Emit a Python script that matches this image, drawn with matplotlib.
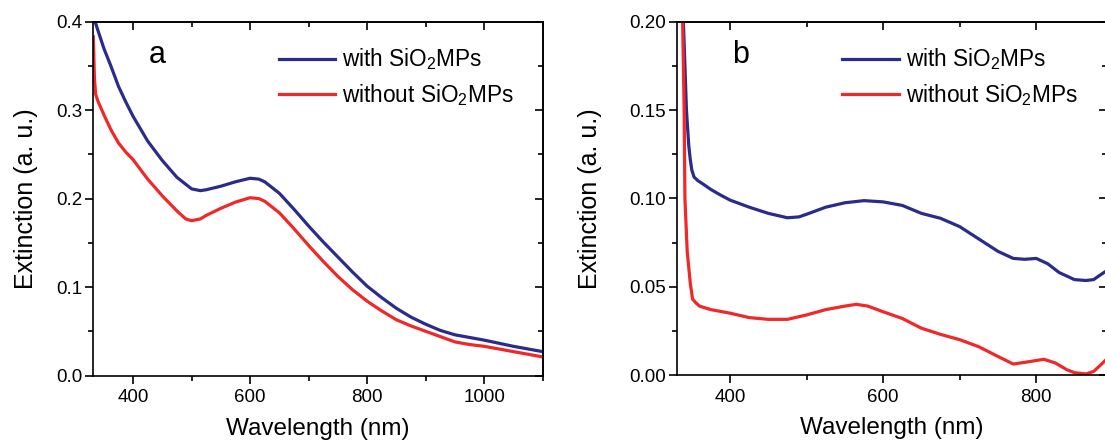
import matplotlib
matplotlib.use('Agg')
import matplotlib.pyplot as plt
import matplotlib.ticker as mticker

plt.rcParams['font.family'] = ['Liberation Sans', 'DejaVu Sans']
plt.rcParams['mathtext.fontset'] = 'custom'
plt.rcParams['mathtext.rm'] = 'Liberation Sans'
plt.rcParams['mathtext.it'] = 'Liberation Sans:italic'

# panel a: wavelength (nm) / extinction (a. u.)
wl_a_with = [335, 340, 350, 362, 375, 387, 400, 425, 450, 475, 500, 515, 525, 550, 575,
             600, 615, 625, 650, 675, 700, 725, 750, 775, 800, 825, 850, 875, 900, 925,
             950, 975, 1000, 1050, 1100]
ext_a_with = [0.400, 0.390, 0.370, 0.350, 0.327, 0.310, 0.293, 0.265, 0.243, 0.224, 0.211,
              0.209, 0.210, 0.214, 0.219, 0.223, 0.222, 0.219, 0.206, 0.188, 0.169, 0.151,
              0.134, 0.117, 0.101, 0.088, 0.076, 0.066, 0.058, 0.051, 0.046, 0.043, 0.040,
              0.033, 0.027]
wl_a_without = [332, 333, 334, 336, 340, 350, 362, 375, 387, 400, 425, 450, 475, 490, 500,
                515, 525, 550, 575, 600, 615, 625, 650, 675, 700, 725, 750, 775, 800, 825,
                850, 875, 900, 925, 950, 975, 1000, 1050, 1100]
ext_a_without = [0.383, 0.360, 0.335, 0.318, 0.310, 0.295, 0.278, 0.263, 0.253, 0.244, 0.222,
                 0.203, 0.186, 0.177, 0.175, 0.177, 0.181, 0.189, 0.196, 0.201, 0.200, 0.197,
                 0.184, 0.166, 0.147, 0.129, 0.112, 0.097, 0.084, 0.073, 0.063, 0.056, 0.050,
                 0.044, 0.038, 0.035, 0.033, 0.027, 0.021]

# panel b
wl_b_with = [339, 341, 343, 346, 348, 350, 353, 358, 365, 375, 387, 400, 425, 450, 475, 490,
             500, 525, 550, 575, 600, 625, 650, 675, 700, 725, 750, 770, 785, 800, 815, 830,
             850, 865, 875, 885, 892]
ext_b_with = [0.200, 0.175, 0.150, 0.130, 0.122, 0.116, 0.112, 0.110, 0.108, 0.105, 0.102,
              0.099, 0.095, 0.0915, 0.089, 0.0895, 0.091, 0.095, 0.0975, 0.0987, 0.098, 0.096,
              0.0915, 0.0887, 0.084, 0.077, 0.070, 0.066, 0.0655, 0.066, 0.063, 0.058, 0.054,
              0.0535, 0.054, 0.057, 0.059]
wl_b_without = [338, 340, 341, 344, 348, 351, 355, 360, 375, 400, 425, 450, 475, 500, 525, 550,
                565, 580, 600, 625, 650, 675, 700, 725, 750, 770, 790, 810, 825, 840, 850, 865,
                875, 885, 892]
ext_b_without = [0.200, 0.150, 0.100, 0.070, 0.052, 0.043, 0.041, 0.039, 0.037, 0.035, 0.0325,
                 0.0315, 0.0315, 0.034, 0.037, 0.039, 0.040, 0.039, 0.0358, 0.032, 0.0265,
                 0.023, 0.020, 0.016, 0.0105, 0.0062, 0.0075, 0.0089, 0.0068, 0.003, 0.0013,
                 0.0006, 0.002, 0.006, 0.009]

labels = ['with SiO$_2$MPs', 'without SiO$_2$MPs']
colors = {'with': '#2B2B8C', 'without': '#F02828'}

W, H = 1105, 442
fig = plt.figure(figsize=(W / 100, H / 100), dpi=100)


def make_panel(rect, xlim, ylim, xmaj, xmin, ymaj, ymin, yfmt, letter, letter_x, ylab_x):
    ax = fig.add_axes(rect)
    ax.set_xlim(*xlim)
    ax.set_ylim(*ylim)
    ax.xaxis.set_major_locator(mticker.MultipleLocator(xmaj))
    ax.xaxis.set_minor_locator(mticker.MultipleLocator(xmin))
    ax.yaxis.set_major_locator(mticker.MultipleLocator(ymaj))
    ax.yaxis.set_minor_locator(mticker.MultipleLocator(ymin))
    ax.yaxis.set_major_formatter(mticker.FormatStrFormatter(yfmt))
    ax.tick_params(which='both', direction='out', width=1.2, labelsize=13.5, pad=2)
    ax.tick_params(axis='x', pad=4.5)
    ax.tick_params(which='major', length=5.5)
    ax.tick_params(which='minor', length=3.5)
    for s in ax.spines.values():
        s.set_linewidth(1.2)
    # mirrored ticks pointing inward on top/right
    top = ax.secondary_xaxis('top')
    right = ax.secondary_yaxis('right')
    for sec, axis in ((top, top.xaxis), (right, right.yaxis)):
        axis.set_major_locator(mticker.MultipleLocator(xmaj if sec is top else ymaj))
        axis.set_minor_locator(mticker.MultipleLocator(xmin if sec is top else ymin))
        sec.tick_params(which='both', direction='in', width=1.2, labelleft=False,
                        labelright=False, labeltop=False, labelbottom=False)
        sec.tick_params(which='major', length=5.5)
        sec.tick_params(which='minor', length=3.5)
        for s in sec.spines.values():
            s.set_linewidth(1.2)
    ax.set_xlabel('Wavelength (nm)', fontsize=17.5)
    ax.set_ylabel('Extinction (a. u.)', fontsize=18)
    ax.xaxis.set_label_coords(0.5, -0.12)
    ax.yaxis.set_label_coords(ylab_x, 0.5)
    ax.text(letter_x, 0.905, letter, transform=ax.transAxes, fontsize=22, va='center')
    return ax


def add_legend(ax, x0):
    ax.legend(loc='upper left', bbox_to_anchor=(x0, 0.93), frameon=False, fontsize=16.3,
              handlelength=2.5, handletextpad=0.3, labelspacing=0.42, borderpad=0,
              borderaxespad=0)


ax_a = make_panel([93 / W, 66.5 / H, 450 / W, 353.8 / H], (331.5, 1100.6), (0, 0.4),
                  200, 100, 0.1, 0.05, '%.1f', 'a', 0.125, -0.123)
ax_a.plot(wl_a_with, ext_a_with, color=colors['with'], lw=2.3, label=labels[0])
ax_a.plot(wl_a_without, ext_a_without, color=colors['without'], lw=2.3, label=labels[1])
add_legend(ax_a, 0.413)

ax_b = make_panel([676.5 / W, 67 / H, 430.5 / W, 353.3 / H], (330, 892.5), (0, 0.2),
                  200, 100, 0.05, 0.025, '%.2f', 'b', 0.13, -0.173)
ax_b.plot(wl_b_with, ext_b_with, color=colors['with'], lw=2.3, label=labels[0])
ax_b.plot(wl_b_without, ext_b_without, color=colors['without'], lw=2.3, label=labels[1])
add_legend(ax_b, 0.385)

fig.savefig('out.png', dpi=100)
